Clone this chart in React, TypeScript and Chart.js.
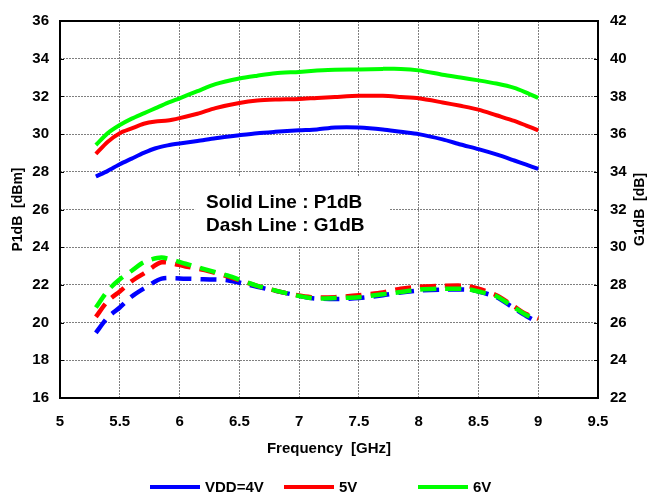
import React, { useEffect, useRef } from 'react';
import { Chart, registerables } from 'chart.js';
Chart.register(...registerables);

// Frequency points (GHz) for the P1dB (solid) curves
const freqP = [5.3, 5.4, 5.5, 5.6, 5.7, 5.8, 5.9, 6.0, 6.15, 6.3, 6.5, 6.65, 6.8, 7.0, 7.15, 7.3, 7.5, 7.7, 7.85, 8.0, 8.2, 8.35, 8.5, 8.65, 8.8, 8.9, 9.0];
const p1dB4V = [27.75, 28.05, 28.4, 28.7, 29.0, 29.25, 29.4, 29.5, 29.63, 29.78, 29.94, 30.05, 30.12, 30.2, 30.25, 30.35, 30.35, 30.25, 30.12, 30.0, 29.72, 29.45, 29.2, 28.92, 28.6, 28.38, 28.15];
const p1dB5V = [28.95, 29.6, 30.05, 30.3, 30.55, 30.67, 30.72, 30.85, 31.08, 31.38, 31.65, 31.78, 31.83, 31.86, 31.92, 31.97, 32.03, 32.03, 31.97, 31.9, 31.68, 31.5, 31.3, 31.0, 30.7, 30.45, 30.2];
const p1dB6V = [29.42, 30.05, 30.48, 30.82, 31.1, 31.38, 31.66, 31.9, 32.28, 32.65, 32.95, 33.1, 33.23, 33.3, 33.37, 33.42, 33.43, 33.46, 33.46, 33.38, 33.15, 33.0, 32.85, 32.68, 32.45, 32.2, 31.92];

// Frequency points (GHz) for the G1dB (dashed) curves
const freqG = [5.3, 5.4, 5.5, 5.6, 5.7, 5.85, 6.05, 6.2, 6.4, 6.65, 6.9, 7.1, 7.3, 7.5, 7.7, 7.85, 8.0, 8.2, 8.4, 8.5, 8.65, 8.8, 8.9, 9.0];
const g1dB4V = [25.46, 26.28, 26.8, 27.38, 27.8, 28.33, 28.33, 28.3, 28.25, 27.9, 27.55, 27.3, 27.25, 27.3, 27.45, 27.6, 27.7, 27.75, 27.75, 27.65, 27.35, 26.75, 26.35, 26.0];
const g1dB5V = [26.3, 27.15, 27.65, 28.2, 28.6, 29.2, 28.98, 28.8, 28.45, 27.95, 27.55, 27.35, 27.35, 27.45, 27.6, 27.8, 27.9, 27.95, 27.95, 27.8, 27.45, 26.85, 26.45, 26.2];
const g1dB6V = [26.8, 27.7, 28.3, 28.75, 29.2, 29.45, 29.12, 28.85, 28.5, 27.95, 27.55, 27.3, 27.3, 27.35, 27.5, 27.62, 27.75, 27.8, 27.78, 27.65, 27.4, 26.8, 26.4, 26.15];

const seriesLabels = ['VDD=4V', '5V', '6V'];
const seriesColors = ['#0000FF', '#FF0000', '#00FF00'];

const xMin = 5, xMax = 9.5, xStep = 0.5;
const yMin = 16, yMax = 36, yStep = 2;
const y2Min = 22, y2Max = 42, y2Step = 2;

const xTitle = 'Frequency  [GHz]';
const yTitle = 'P1dB  [dBm]';
const y2Title = 'G1dB  [dB]';
const noteLines = ['Solid Line : P1dB', 'Dash Line : G1dB'];

const FONT = '"Liberation Sans", Arial, sans-serif';

const toPts = (xs: number[], ys: number[]) => xs.map((x, i) => ({ x, y: ys[i] }));

const framePlugin = {
  id: 'frameAndNote',
  beforeDatasetsDraw(chart: any) {
    const { ctx, chartArea: a } = chart;
    ctx.save();
    const xs = chart.scales.x;
    const ys = chart.scales.y;
    const bx0 = xs.getPixelForValue(6.13);
    const bx1 = xs.getPixelForValue(7.76);
    const by0 = ys.getPixelForValue(27.75);
    const by1 = ys.getPixelForValue(24.05);
    ctx.fillStyle = '#ffffff';
    ctx.fillRect(bx0, by0, bx1 - bx0, by1 - by0);
    ctx.fillStyle = '#000000';
    ctx.font = `bold 19px ${FONT}`;
    ctx.textBaseline = 'alphabetic';
    ctx.textAlign = 'left';
    ctx.fillText(noteLines[0], bx0 + 11, by0 + 31);
    ctx.fillText(noteLines[1], bx0 + 11, by0 + 54);
    // inward tick marks on left and right axes
    ctx.strokeStyle = '#000';
    ctx.lineWidth = 1;
    const y2s = chart.scales.y2;
    for (let v = yMin; v <= yMax; v += yStep) {
      const py = Math.round(ys.getPixelForValue(v)) + 0.5;
      ctx.beginPath();
      ctx.moveTo(a.left, py);
      ctx.lineTo(a.left + 4, py);
      ctx.stroke();
    }
    for (let v = y2Min; v <= y2Max; v += y2Step) {
      const py = Math.round(y2s.getPixelForValue(v)) + 0.5;
      ctx.beginPath();
      ctx.moveTo(a.right - 4, py);
      ctx.lineTo(a.right, py);
      ctx.stroke();
    }
    // frame
    ctx.strokeStyle = '#000000';
    ctx.lineWidth = 2;
    ctx.strokeRect(a.left, a.top, a.right - a.left, a.bottom - a.top);
    ctx.restore();
  },
  afterDraw(chart: any) {
    const { ctx, chartArea: a } = chart;
    ctx.save();
    ctx.fillStyle = '#000';
    ctx.font = `bold 14px ${FONT}`;
    ctx.textAlign = 'center';
    ctx.textBaseline = 'middle';
    ctx.translate(640, (a.top + a.bottom) / 2);
    ctx.rotate(-Math.PI / 2);
    ctx.fillText(y2Title, 0, 0);
    ctx.restore();
  },
};

const legendPlugin = {
  id: 'slotLegend',
  afterDraw(chart: any) {
    const { ctx } = chart;
    const y = 487;
    const startX = 150;
    const slot = 134;
    ctx.save();
    ctx.font = `bold 15px ${FONT}`;
    ctx.textBaseline = 'middle';
    ctx.textAlign = 'left';
    seriesLabels.forEach((lab, i) => {
      const x = startX + i * slot;
      ctx.strokeStyle = seriesColors[i];
      ctx.lineWidth = 4;
      ctx.beginPath();
      ctx.moveTo(x, y);
      ctx.lineTo(x + 50, y);
      ctx.stroke();
      ctx.fillStyle = '#000';
      ctx.fillText(lab, x + 55, y + 1);
    });
    ctx.restore();
  },
};

export default function App() {
  const ref = useRef<HTMLCanvasElement>(null);
  useEffect(() => {
    if (!ref.current) return;
    const pSeries = [p1dB4V, p1dB5V, p1dB6V];
    const gSeries = [g1dB4V, g1dB5V, g1dB6V];
    const datasets: any[] = [];
    pSeries.forEach((s, i) => {
      datasets.push({
        label: seriesLabels[i],
        data: toPts(freqP, s),
        borderColor: seriesColors[i],
        backgroundColor: seriesColors[i],
        borderWidth: 4,
        pointRadius: 0,
        tension: 0.25,
        yAxisID: 'y',
        order: 10 - i,
      });
    });
    gSeries.forEach((s, i) => {
      datasets.push({
        label: 'G1dB ' + seriesLabels[i],
        data: toPts(freqG, s),
        borderColor: seriesColors[i],
        backgroundColor: seriesColors[i],
        borderWidth: 4.5,
        borderDash: [16, 9],
        pointRadius: 0,
        tension: 0.25,
        yAxisID: 'y2',
        order: 10 - i,
      });
    });
    const tickFont = { family: FONT, size: 15, weight: 'bold' as const };
    const chart = new Chart(ref.current, {
      type: 'line',
      data: { datasets },
      options: {
        animation: false,
        responsive: false,
        layout: { padding: { top: 14, bottom: 34, left: 0, right: 0 } },
        plugins: { legend: { display: false }, tooltip: { enabled: false } },
        scales: {
          x: {
            type: 'linear',
            min: xMin,
            max: xMax,
            ticks: {
              stepSize: xStep, font: tickFont, color: '#000', padding: 15, maxRotation: 0, autoSkip: false,
              callback: (v: any) => String(Number(v)),
            },
            grid: { color: 'rgba(0,0,0,0.5)', lineWidth: 1, drawTicks: false },
            border: { display: false, dash: [2, 1] },
            title: { display: true, text: xTitle, font: tickFont, color: '#000', padding: { top: 0, bottom: 2 } },
            afterFit: (s: any) => { s.height = 62; },
          },
          y: {
            type: 'linear',
            position: 'left',
            min: yMin,
            max: yMax,
            ticks: { stepSize: yStep, font: tickFont, color: '#000', padding: 11 },
            grid: { color: 'rgba(0,0,0,0.5)', lineWidth: 1, drawTicks: false },
            border: { display: false, dash: [2, 1] },
            title: { display: true, text: yTitle, font: { family: FONT, size: 14, weight: 'bold' }, color: '#000', padding: { top: 10, bottom: 0 } },
            afterFit: (s: any) => { s.width = 60; },
          },
          y2: {
            type: 'linear',
            position: 'right',
            min: y2Min,
            max: y2Max,
            ticks: { stepSize: y2Step, font: tickFont, color: '#000', padding: 12 },
            grid: { drawOnChartArea: false, drawTicks: false },
            border: { display: false },
            title: { display: false },
            afterFit: (s: any) => { s.width = 50; },
          },
        },
      } as any,
      plugins: [framePlugin, legendPlugin],
    });
    return () => chart.destroy();
  }, []);
  return (
    <div style={{ position: 'fixed', left: 0, top: 0, width: 648, height: 494, background: '#fff' }}>
      <canvas ref={ref} width={648} height={494} style={{ width: 648, height: 494 }} />
    </div>
  );
}
